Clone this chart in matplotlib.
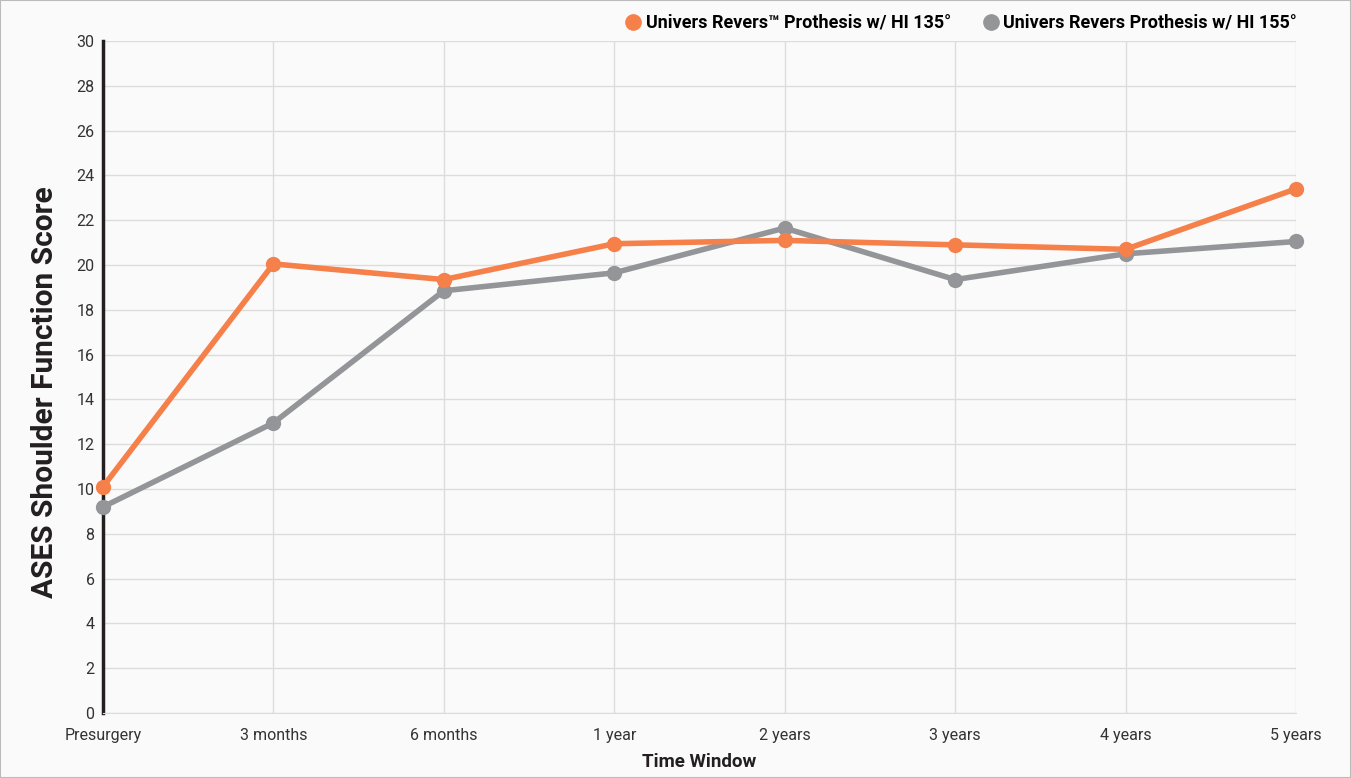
import matplotlib.pyplot as plt
from matplotlib.lines import Line2D
from matplotlib.patches import Rectangle

categories = ["Presurgery", "3 months", "6 months", "1 year", "2 years", "3 years", "4 years", "5 years"]
hi_135 = [10.1, 20.05, 19.35, 20.95, 21.1, 20.9, 20.7, 23.4]
hi_155 = [9.2, 12.95, 18.85, 19.65, 21.65, 19.35, 20.5, 21.05]
yticks = list(range(0, 31, 2))

ORANGE = "#f5804a"
GRAY = "#939598"

plt.rcParams["font.family"] = ["Roboto", "DejaVu Sans"]

fig = plt.figure(figsize=(13.51, 7.78), dpi=100, facecolor="#fafafa")
ax = fig.add_axes([0.0762, 0.0835, 0.8831, 0.8638])
ax.set_facecolor("#fafafa")

x = list(range(len(categories)))
ax.plot(x, hi_135, color=ORANGE, lw=4, marker="o", ms=10, clip_on=False, zorder=4)
ax.plot(x, hi_155, color=GRAY, lw=4, marker="o", ms=10, clip_on=False, zorder=3)

ax.set_xlim(0, len(categories) - 1)
ax.set_ylim(0, 30)
ax.set_xticks(x)
ax.set_xticklabels(categories)
ax.set_yticks(yticks)
ax.tick_params(length=0, labelsize=11.5, colors="#333333")
ax.tick_params(axis="x", pad=11)
ax.tick_params(axis="y", pad=6)
ax.grid(True, color="#dcdcdc", lw=1)
ax.set_axisbelow(True)

for side in ["top", "right"]:
    ax.spines[side].set_visible(False)
ax.spines["bottom"].set_color("#dcdcdc")
ax.spines["left"].set_color("#231f20")
ax.spines["left"].set_linewidth(2.5)

ax.set_ylabel("ASES Shoulder Function Score", fontsize=21.5, fontweight="bold", color="#231f20")
ax.yaxis.set_label_coords(-0.037, 0.478)
ax.set_xlabel("Time Window", fontsize=13.5, fontweight="bold", color="#231f20", labelpad=7)

handles = [
    Line2D([], [], color=ORANGE, marker="o", ls="", ms=11),
    Line2D([], [], color=GRAY, marker="o", ls="", ms=11),
]
labels = ["Univers Revers\u2122 Prothesis w/ HI 135\u00b0", "Univers Revers Prothesis w/ HI 155\u00b0"]
fig.legend(handles, labels, loc="upper right", bbox_to_anchor=(0.972, 1.003), ncol=2, frameon=False,
           handletextpad=-0.3, columnspacing=1.2, prop={"weight": "bold", "size": 13})

fig.patches.append(Rectangle((0, 0), 1, 1, transform=fig.transFigure, fill=False,
                             edgecolor="#bbbbbb", lw=1.5))

fig.savefig("out.png", dpi=100, facecolor=fig.get_facecolor())
